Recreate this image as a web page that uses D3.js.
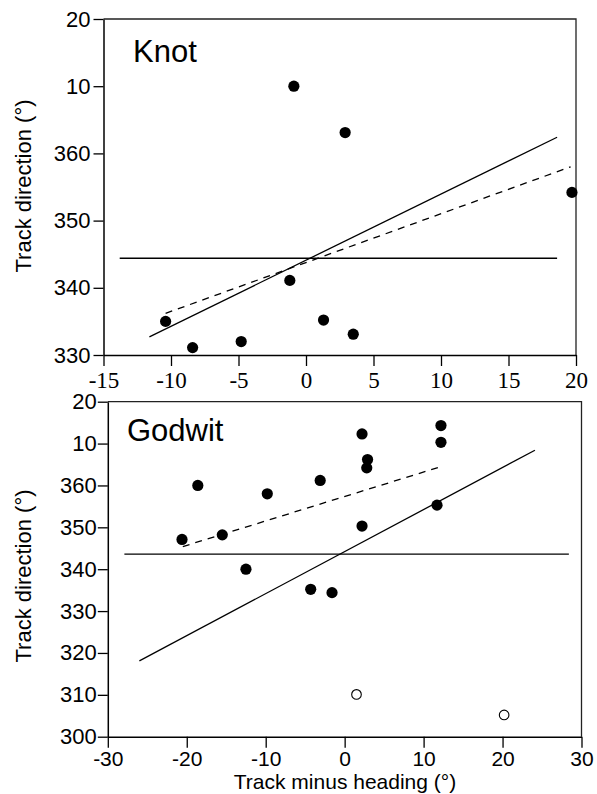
<!DOCTYPE html>
<html>
<head>
<meta charset="utf-8">
<script src="https://cdn.jsdelivr.net/npm/d3@7"></script>
<style>
  html, body { margin: 0; padding: 0; background: #fff; }
  svg { display: block; }
  text { font-family: "Liberation Sans", Arial, Helvetica, sans-serif; fill: #000; }
</style>
</head>
<body>
<svg id="chart" width="597" height="794"></svg>
<script>
// Knot: track direction vs. track minus heading
const knotX = [-0.9, 2.9, 19.7, -10.4, -8.4, -4.8, -1.2, 1.3, 3.5];
const knotY = [370, 363.1, 354.2, 335, 331.1, 332, 341.1, 335.2, 333.1];
const knotMean = { x: [-13.8, 18.6], y: 344.4 };
const knotFit = { x: [-11.6, 18.6], y: [332.7, 362.4] };
const knotFitDashed = { x: [-10.4, 19.6], y: [336.2, 358.0] };

// Godwit: filled points and the two open (excluded) points
const godwitX = [-18.6, -20.6, -15.5, -9.8, -12.5, 2.2, 12.2, 12.2, 2.9, 2.8, -3.1, 11.7, 2.2, -4.3, -1.6];
const godwitY = [360.0, 347.1, 348.2, 358.0, 340.0, 372.3, 374.3, 370.3, 366.2, 364.2, 361.2, 355.3, 350.3, 335.2, 334.4];
const godwitOpenX = [1.5, 20.2];
const godwitOpenY = [310.1, 305.2];
const godwitMean = { x: [-27.9, 28.4], y: 343.6 };
const godwitFit = { x: [-26.0, 24.1], y: [318.1, 368.4] };
const godwitFitDashed = { x: [-20.5, 12.4], y: [345.4, 364.6] };

// Axis ticks
const knotXTicks = [-15, -10, -5, 0, 5, 10, 15, 20];
const knotYTicks = [330, 340, 350, 360, 370, 380];
const godwitXTicks = [-30, -20, -10, 0, 10, 20, 30];
const godwitYTicks = [300, 310, 320, 330, 340, 350, 360, 370, 380];

const svg = d3.select("#chart");

// Directions past 360 are shown wrapped (370 -> 10, 380 -> 20)
const wrapDeg = v => String(v >= 370 ? v - 360 : v);
// Plain hyphen for negative numbers
const plainNum = v => String(v);

function panel(cfg) {
  const x = d3.scaleLinear().domain(cfg.xDomain).range(cfg.xRange);
  const y = d3.scaleLinear().domain(cfg.yDomain).range(cfg.yRange);
  const g = svg.append("g");

  // frame: top and right edges
  g.append("path")
    .attr("d", `M${x.range()[0]},${y.range()[1]}H${x.range()[1]}V${y.range()[0]}`)
    .attr("fill", "none").attr("stroke", "#222").attr("stroke-width", 1.3);

  // x axis
  const xa = g.append("g")
    .attr("transform", `translate(0,${y.range()[0]})`)
    .call(d3.axisBottom(x).tickValues(cfg.xTicks).tickFormat(plainNum)
      .tickSize(11).tickSizeOuter(0).tickPadding(cfg.xPad));
  xa.select(".domain").attr("stroke", "#000").attr("stroke-width", 1.5);
  xa.selectAll(".tick line").attr("stroke", "#000").attr("stroke-width", 1.3);
  xa.selectAll("text")
    .style("font-family", cfg.xFont)
    .style("font-size", cfg.xFontSize + "px")
    .attr("fill", "#000");

  // y axis
  const ya = g.append("g")
    .attr("transform", `translate(${x.range()[0]},0)`)
    .call(d3.axisLeft(y).tickValues(cfg.yTicks).tickFormat(wrapDeg)
      .tickSize(10).tickSizeOuter(0).tickPadding(cfg.yPad));
  ya.select(".domain").attr("stroke", "#000").attr("stroke-width", 1.5);
  ya.selectAll(".tick line").attr("stroke", "#000").attr("stroke-width", 1.3);
  ya.selectAll("text")
    .style("font-family", "'Liberation Sans', Arial, sans-serif")
    .style("font-size", "22px")
    .attr("fill", "#000");

  // horizontal mean line
  g.append("line")
    .attr("x1", x(cfg.mean.x[0])).attr("x2", x(cfg.mean.x[1]))
    .attr("y1", y(cfg.mean.y)).attr("y2", y(cfg.mean.y))
    .attr("stroke", "#000").attr("stroke-width", 1.3);

  // fitted lines
  const fitLine = (f, dash) => g.append("line")
    .attr("x1", x(f.x[0])).attr("y1", y(f.y[0]))
    .attr("x2", x(f.x[1])).attr("y2", y(f.y[1]))
    .attr("stroke", "#000").attr("stroke-width", 1.3)
    .attr("stroke-dasharray", dash);
  fitLine(cfg.fit, null);
  fitLine(cfg.fitDashed, "7,6");

  // filled points
  g.selectAll("circle.filled")
    .data(d3.zip(cfg.px, cfg.py))
    .join("circle")
    .attr("class", "filled")
    .attr("cx", d => x(d[0])).attr("cy", d => y(d[1]))
    .attr("r", 5.6).attr("fill", "#000");

  // open points
  if (cfg.ox) {
    g.selectAll("circle.open")
      .data(d3.zip(cfg.ox, cfg.oy))
      .join("circle")
      .attr("class", "open")
      .attr("cx", d => x(d[0])).attr("cy", d => y(d[1]))
      .attr("r", 4.8).attr("fill", "#fff").attr("stroke", "#000").attr("stroke-width", 1.1);
  }

  // species label
  g.append("text")
    .attr("x", cfg.labelPos[0]).attr("y", cfg.labelPos[1])
    .style("font-size", "31px")
    .text(cfg.label);

  // y axis title
  g.append("text")
    .attr("transform", `translate(31,${cfg.yTitleY}) rotate(-90)`)
    .attr("text-anchor", "middle")
    .style("font-size", "22px")
    .text("Track direction (°)");

  return { x, y };
}

panel({
  xDomain: [-15, 20], xRange: [103.5, 576],
  yDomain: [330, 380], yRange: [355, 19],
  xTicks: knotXTicks, yTicks: knotYTicks,
  xFont: "'Liberation Serif', 'Times New Roman', serif", xFontSize: 23, xPad: 6, yPad: 3,
  px: knotX, py: knotY,
  mean: knotMean, fit: knotFit, fitDashed: knotFitDashed,
  label: "Knot", labelPos: [133, 62], yTitleY: 186
});

panel({
  xDomain: [-30, 30], xRange: [107.8, 581.5],
  yDomain: [300, 380], yRange: [736.7, 401.7],
  xTicks: godwitXTicks, yTicks: godwitYTicks,
  xFont: "'Liberation Sans', Arial, sans-serif", xFontSize: 21, xPad: 3, yPad: 1,
  px: godwitX, py: godwitY, ox: godwitOpenX, oy: godwitOpenY,
  mean: godwitMean, fit: godwitFit, fitDashed: godwitFitDashed,
  label: "Godwit", labelPos: [127, 441], yTitleY: 576
});

// x axis title
svg.append("text")
  .attr("x", 345).attr("y", 789)
  .attr("text-anchor", "middle")
  .style("font-size", "21px")
  .text("Track minus heading (°)");
</script>
</body>
</html>
